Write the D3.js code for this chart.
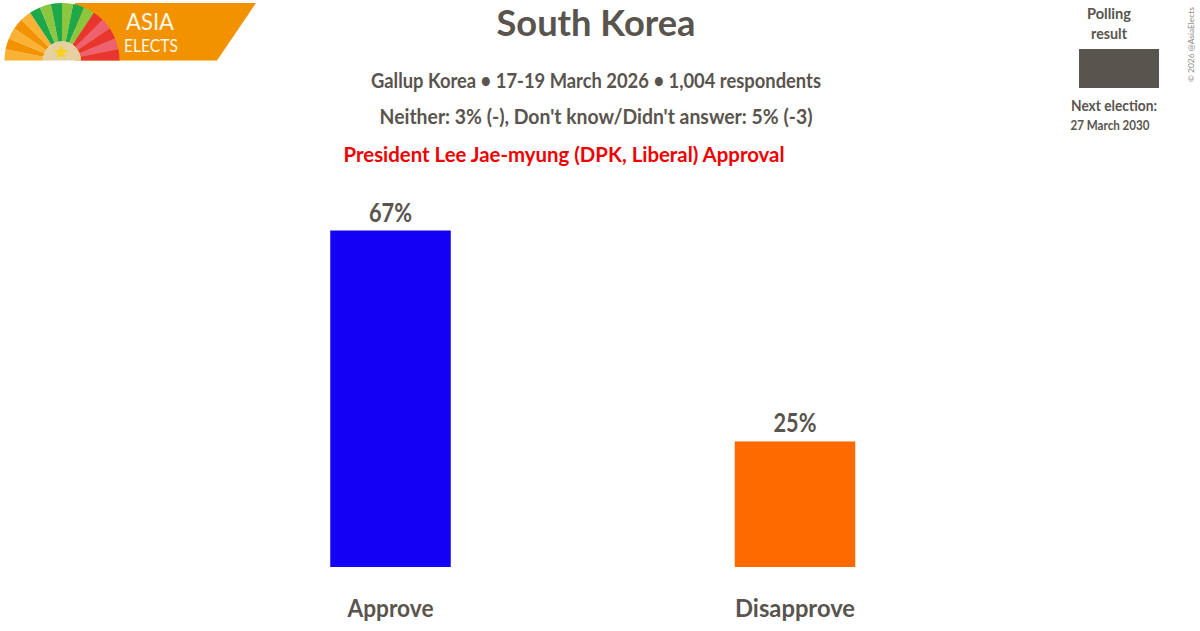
<!DOCTYPE html>
<html><head><meta charset="utf-8">
<script src="https://cdn.jsdelivr.net/npm/d3@7"></script>
<style>html,body{margin:0;padding:0;background:#fff}svg{display:block}text{font-family:Lato,sans-serif;font-weight:700}</style>
</head><body><svg id="c" width="1200" height="631"></svg>
<script>
const categories = ["Approve", "Disapprove"];
const values = [67, 25];
const valueLabels = ["67%", "25%"];
const barColors = ["#1400f5", "#ff6a00"];
const logoColors = ["#f9b233","#f39200","#f9b233","#f39200","#f9b233","#1fa84a","#8cc63f","#1fa84a","#8cc63f","#1fa84a","#8cc63f","#e8352e","#ee6170","#e8352e","#ee6170","#e8352e"];
const ink = "#59544e";
const svg = d3.select("#c");
const Y = d3.scaleLinear().domain([0, 67]).range([567, 230.5]);
const bw = 120.5;

function txt(s, x, y, size, w, opt = {}) {
  const t = svg.append("text").attr("x", x).attr("y", y).attr("font-size", size)
    .attr("text-anchor", "middle").attr("fill", opt.fill || ink).text(s);
  if (opt.weight) t.style("font-weight", opt.weight);
  if (w) t.attr("textLength", w).attr("lengthAdjust", "spacingAndGlyphs");
  return t;
}

// logo
const g = svg.append("g");
g.append("path").attr("fill", "#f39200")
  .attr("d", d3.line()([[75,3],[256,3],[217,60.5],[75,60.5]]) + "Z");
const cx = 62, cy = 60.5;
const ang = d3.scaleLinear().domain([0, logoColors.length]).range([-Math.PI/2, Math.PI/2]);
const arc = d3.arc().innerRadius(19).outerRadius(57.5);
logoColors.forEach((c, i) => {
  g.append("path").attr("transform", `translate(${cx},${cy})`).attr("fill", c)
    .attr("d", arc({startAngle: ang(i), endAngle: ang(i + 1)}));
});
g.append("path").attr("transform", `translate(${cx},${cy})`).attr("fill", "#e6cfa0")
  .attr("d", d3.arc().innerRadius(0).outerRadius(19)({startAngle: -Math.PI/2, endAngle: Math.PI/2}));
g.append("path").attr("transform", `translate(${cx-1},${cy-8})`).attr("fill", "#f7d21e")
  .attr("d", d3.symbol(d3.symbolStar, 75)());
txt("ASIA", 150, 29.5, 23, 48, {fill: "#fff7e8", weight: 400});
txt("ELECTS", 151, 52, 17.5, 54, {fill: "#fff7e8", weight: 400});

// headings
txt("South Korea", 596, 36, 37, 199);
txt("Gallup Korea • 17-19 March 2026 • 1,004 respondents", 596, 88, 20, 450);
txt("Neither: 3% (-), Don't know/Didn't answer: 5% (-3)", 596, 124, 20, 433);
txt("President Lee Jae-myung (DPK, Liberal) Approval", 564, 162, 20, 441, {fill: "#f00000"});

// legend
txt("Polling", 1109, 19, 14.5, 44);
txt("result", 1109, 39, 14.5, 36);
svg.append("rect").attr("x", 1079).attr("y", 49).attr("width", 80).attr("height", 39).attr("fill", ink);
txt("Next election:", 1114, 111, 14.5, 86);
txt("27 March 2030", 1110, 130, 13, 79);
svg.append("text").attr("transform", "translate(1194,82) rotate(-90)").attr("text-anchor", "start")
  .attr("font-size", 8.4).attr("fill", "#8a8781").style("font-weight", 400)
  .text("© 2026 @AsiaElects");

// bars
const x0 = d3.scalePoint().domain(categories).range([390.5, 795]);
svg.selectAll("rect.bar").data(values).join("rect").attr("class", "bar")
  .attr("x", (d, i) => x0(categories[i]) - bw / 2).attr("width", bw)
  .attr("y", d => Y(d)).attr("height", d => Y(0) - Y(d))
  .attr("fill", (d, i) => barColors[i]);
values.forEach((d, i) => {
  txt(valueLabels[i], x0(categories[i]), Y(d) - 9, 27, 43);
  txt(categories[i], x0(categories[i]), 617, 25, i ? 120 : 86);
});
</script></body></html>
